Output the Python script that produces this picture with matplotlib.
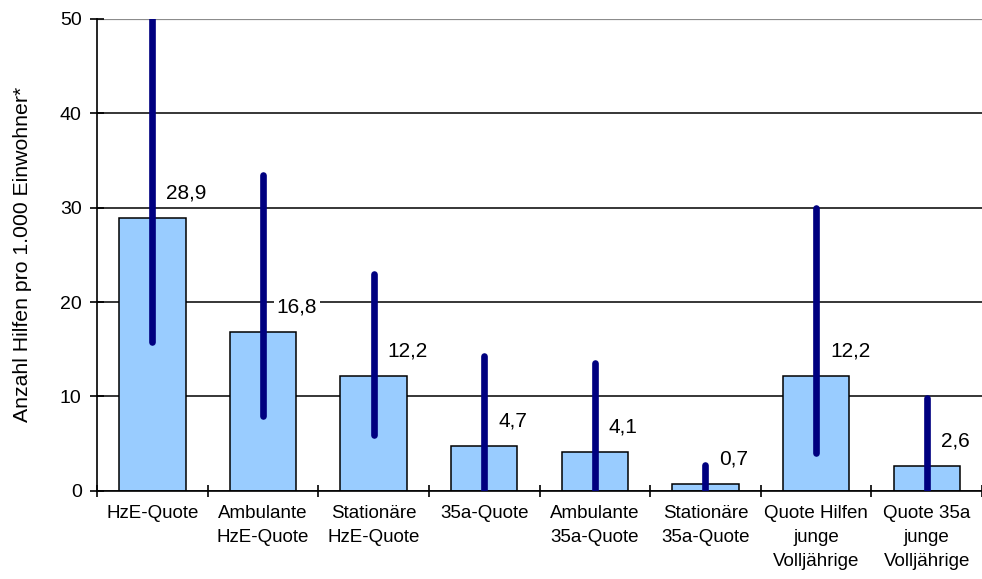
import numpy as np
import matplotlib
matplotlib.use("Agg")
import matplotlib.pyplot as plt

plt.rcParams["font.family"] = ["Liberation Sans", "DejaVu Sans"]

# Kennzahlen: Mittelwert (Balken) und Spannweite (Minimum bis Maximum)
categories = [
    "HzE-Quote",
    "Ambulante\nHzE-Quote",
    "Stationäre\nHzE-Quote",
    "35a-Quote",
    "Ambulante\n35a-Quote",
    "Stationäre\n35a-Quote",
    "Quote Hilfen\njunge\nVolljährige",
    "Quote 35a\njunge\nVolljährige",
]
mean_values = [28.9, 16.8, 12.2, 4.7, 4.1, 0.7, 12.2, 2.6]
range_min = [15.8, 7.9, 5.9, 0.0, 0.0, 0.0, 4.0, 0.0]
range_max = [55.0, 33.5, 23.0, 14.3, 13.5, 2.7, 30.0, 9.8]
y_ticks = [0, 10, 20, 30, 40, 50]

bar_color = "#99CCFF"
range_color = "#000080"

fig = plt.figure(figsize=(9.82, 5.79), dpi=100)
ax = fig.add_axes([0.0988, 0.1525, 0.9012, 0.8147])

x = np.arange(len(categories))

# Gitterlinien hinter den Balken
for yv in y_ticks[:-1]:
    ax.axhline(yv, color="black", linewidth=1.1, zorder=0)
ax.axhline(y_ticks[-1], color="#8c8c8c", linewidth=1.6, zorder=0)

ax.bar(x, mean_values, width=0.6, color=bar_color, edgecolor="black",
       linewidth=1.1, zorder=2)

# Spannweite als dicke Linie
for xi, lo, hi in zip(x, range_min, range_max):
    ax.plot([xi, xi], [lo, hi], color=range_color, linewidth=4.8,
            solid_capstyle="round", zorder=3)

# Wertebeschriftungen rechts neben der Linie
for xi, v in zip(x, mean_values):
    ax.annotate(f"{v:.1f}".replace(".", ","), xy=(xi, v),
                xytext=(10, 18), textcoords="offset points",
                ha="left", va="center", fontsize=15, zorder=4,
                bbox=dict(boxstyle="square,pad=0.15", fc="white", ec="none"))

ax.set_xlim(-0.5, 7.5)
ax.set_ylim(0, 50)
ax.set_yticks(y_ticks)
ax.set_yticklabels([str(t) for t in y_ticks], fontsize=14)

# Kategoriegrenzen als Ticks, Beschriftung mittig
ax.set_xticks(np.arange(-0.5, 8.0, 1.0))
ax.set_xticklabels([])
ax.set_xticks(x, minor=True)
ax.set_xticklabels(categories, minor=True, fontsize=13.5, linespacing=1.55,
                   va="top")
ax.tick_params(axis="x", which="minor", length=0, pad=10)
ax.tick_params(axis="x", which="major", direction="inout", length=9,
               width=1.2)
ax.tick_params(axis="y", direction="inout", length=10, width=1.2, pad=6)

ax.set_ylabel("Anzahl Hilfen pro 1.000 Einwohner*", fontsize=15.3,
              labelpad=20)

for side in ["top", "right"]:
    ax.spines[side].set_visible(False)
ax.spines["left"].set_linewidth(1.2)
ax.spines["bottom"].set_linewidth(1.2)

fig.savefig("out.png", dpi=100)
